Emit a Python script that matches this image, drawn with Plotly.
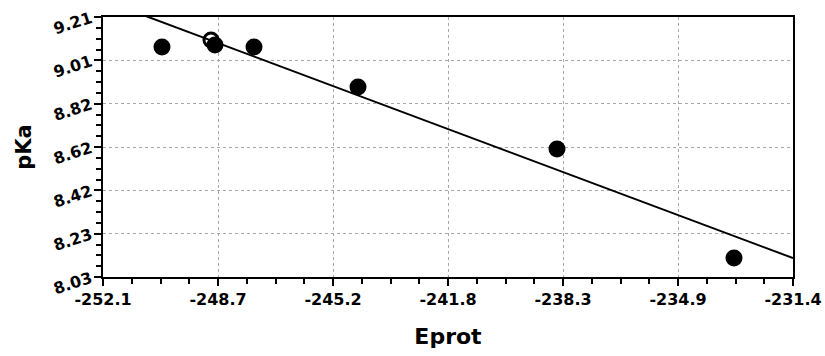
import plotly.graph_objects as go

# Data
eprot = [-250.33, -248.86, -248.74, -247.57, -244.45, -238.48, -233.17]
pka = [9.074, 9.106, 9.083, 9.074, 8.892, 8.611, 8.116]
marker_symbols = ["circle", "circle-open", "circle", "circle", "circle", "circle", "circle"]

fit_x = [-250.9, -231.4]
fit_y = [9.219, 8.116]

x_tickvals = [-252.1, -248.65, -245.2, -241.75, -238.3, -234.85, -231.4]
x_ticktext = ["-252.1", "-248.7", "-245.2", "-241.8", "-238.3", "-234.9", "-231.4"]
y_tickvals = [8.03, 8.2267, 8.4233, 8.62, 8.8167, 9.0133, 9.21]
y_ticktext = ["8.03", "8.23", "8.42", "8.62", "8.82", "9.01", "9.21"]

FAMILY = "DejaVu Sans, Verdana, Arial"

fig = go.Figure()
fig.add_trace(go.Scatter(
    x=fit_x, y=fit_y, mode="lines",
    line=dict(color="black", width=2), showlegend=False, hoverinfo="skip"))
fig.add_trace(go.Scatter(
    x=eprot, y=pka, mode="markers",
    marker=dict(size=14, color="black", symbol=marker_symbols,
                line=dict(color="black", width=3)),
    showlegend=False))

tick_font = dict(family=FAMILY, size=16, color="black", weight="bold")

fig.update_layout(
    width=825, height=356,
    margin=dict(l=103, r=32, t=17, b=79, autoexpand=False),
    paper_bgcolor="white", plot_bgcolor="white",
    font=dict(family=FAMILY, color="black"),
    xaxis=dict(
        range=[-252.1, -231.4], automargin=False,
        tickvals=x_tickvals, ticktext=x_ticktext,
        tickfont=tick_font,
        ticks="outside", ticklen=7, tickwidth=2, tickcolor="black",
        showline=True, linecolor="black", linewidth=2, mirror=True,
        showgrid=True, gridcolor="#a8a8a8", griddash="dot", gridwidth=1,
        zeroline=False,
        minor=dict(dtick=0.8625, tick0=-252.1, ticks="outside", ticklen=5,
                   tickwidth=2, tickcolor="black", showgrid=False),
        title=dict(text="Eprot", font=dict(family=FAMILY, size=22,
                                           color="black", weight="bold"), standoff=20),
    ),
    yaxis=dict(
        range=[8.03, 9.21], automargin=False,
        tickvals=y_tickvals, ticktext=y_ticktext,
        tickangle=-18,
        tickfont=tick_font,
        ticks="outside", ticklen=7, tickwidth=2, tickcolor="black",
        showline=True, linecolor="black", linewidth=2, mirror=True,
        showgrid=True, gridcolor="#a8a8a8", griddash="dot", gridwidth=1,
        zeroline=False,
        minor=dict(dtick=0.049167, tick0=8.03, ticks="outside", ticklen=5,
                   tickwidth=2, tickcolor="black", showgrid=False),
        title=dict(text="pKa", font=dict(family=FAMILY, size=21,
                                         color="black", weight="bold"), standoff=14),
    ),
)

fig.write_html("out.html")
